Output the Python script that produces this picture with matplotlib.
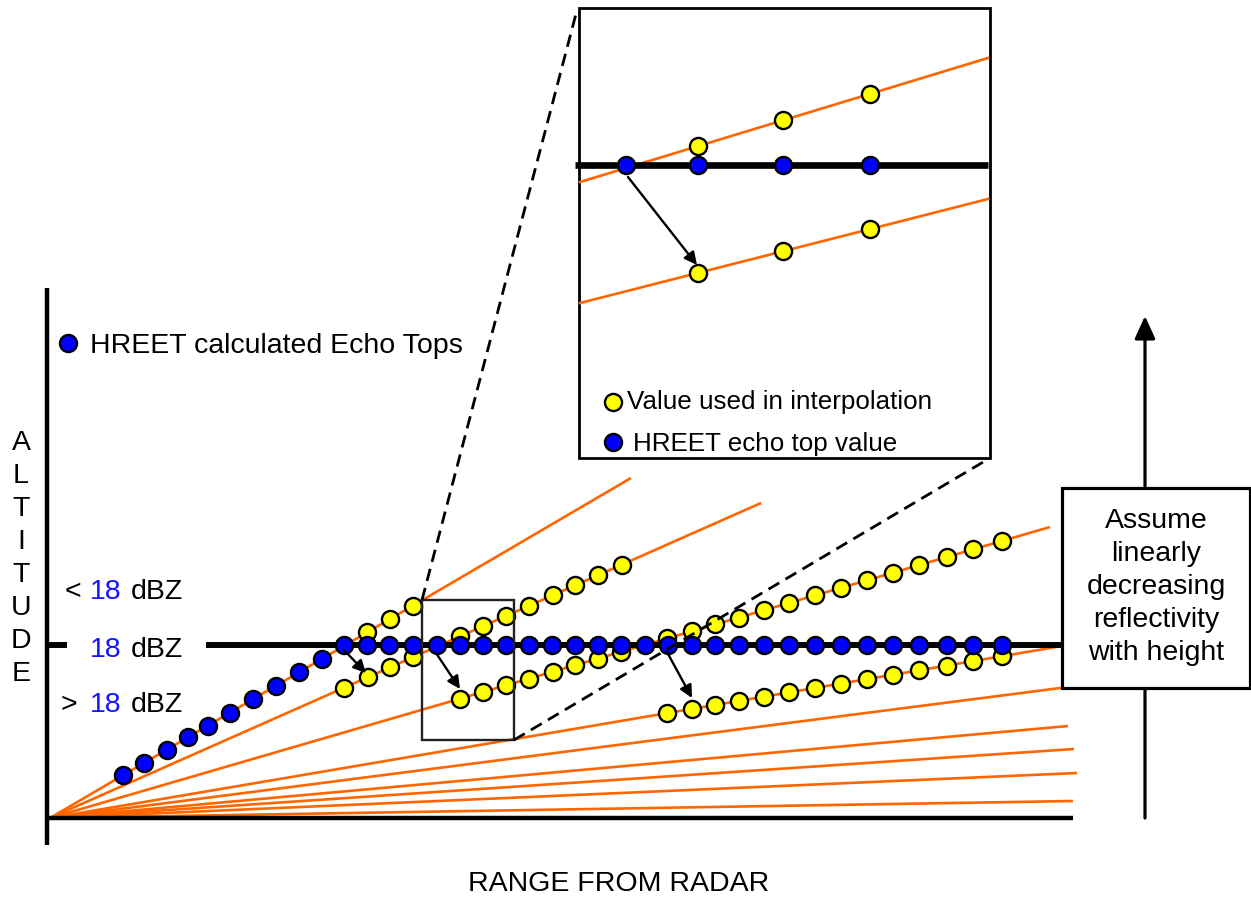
import numpy as np
import matplotlib
matplotlib.use("Agg")
import matplotlib.pyplot as plt
from matplotlib.patches import Rectangle

plt.rcParams['font.family'] = ['Liberation Sans', 'DejaVu Sans']

# ---------------- data (diagram coordinates, pixels, y downward) ----------------
RADAR_X, RADAR_Y = 50, 818
beam_end_x = [631, 761, 1050, 1062, 1068, 1068, 1074, 1077, 1073]
beam_end_y = [478, 503, 527, 646, 687, 726, 749, 773, 801]

ECHO_LEVEL_Y = 645
# HREET echo tops along the steepest beam (below the 18 dBZ level)
beam1_echo_top_x = [123, 144, 167, 188, 208, 230, 253, 276, 299, 322]
# HREET echo tops on the 18 dBZ level
level_echo_top_x = [344, 367, 389, 413, 437, 460, 483, 506, 529, 552, 575, 598,
                    621, 645, 668, 692, 715, 739, 764, 789, 815, 841, 867, 893,
                    919, 947, 973, 1002]
# values used in interpolation, per beam index
yellow_beam1_x = [367, 390, 413]
yellow_beam2_x = [344, 368, 390, 413, 460, 483, 506, 529, 553, 575, 598, 622]
yellow_beam3_x = [460, 483, 506, 529, 553, 575, 598, 621, 667, 692, 715, 739,
                  764, 789, 815, 841, 867, 893, 919, 947, 973, 1002]
yellow_beam4_x = [667, 692, 715, 739, 764, 789, 815, 841, 867, 893, 919, 947,
                  973, 1002]

# arrows (start, end)
small_arrows = [((344, 650), (366, 673)), ((436, 653), (460, 689)),
                ((667, 652), (692, 698))]

# inset
inset_box = (579, 8, 990, 458)
inset_level_y = 165
inset_upper = ((580, 182), (988, 58))
inset_lower = ((580, 303), (988, 199))
inset_blue_x = [626, 698, 783, 870]
inset_yellow_x = [698, 783, 870]
inset_arrow = ((628, 177), (697, 265))
zoom_box = (422, 600, 514, 740)

box_lines = ["Assume", "linearly", "decreasing", "reflectivity", "with height"]
altitude_letters = list("ALTITUDE")

ORANGE = '#FF6600'
BLUE = '#0000FF'
YELLOW = '#FFFF00'
TXT_BLUE = '#1414FF'

# ---------------- figure ----------------
fig = plt.figure(figsize=(12.51, 8.97), dpi=100)
ax = fig.add_axes([0, 0, 1, 1])
ax.set_xlim(0, 1251)
ax.set_ylim(897, 0)
ax.axis('off')


def beam_y(i, xs):
    xs = np.asarray(xs, float)
    return RADAR_Y + (beam_end_y[i] - RADAR_Y) * (xs - RADAR_X) / (beam_end_x[i] - RADAR_X)


def line_y(seg, xs):
    (x0, y0), (x1, y1) = seg
    xs = np.asarray(xs, float)
    return y0 + (y1 - y0) * (xs - x0) / (x1 - x0)


MS, MEW = 12.3, 1.7
ARROW = dict(arrowstyle='-|>,head_length=0.5,head_width=0.25', color='black',
             lw=1.7, shrinkA=0, shrinkB=0, mutation_scale=15)
DASH = (0, (4.5, 2.6))

# beams
for ex, ey in zip(beam_end_x, beam_end_y):
    ax.plot([RADAR_X, ex], [RADAR_Y, ey], color=ORANGE, lw=1.9, zorder=1,
            solid_capstyle='butt')

# 18 dBZ level line
ax.plot([47, 67], [ECHO_LEVEL_Y] * 2, color='black', lw=4.3, zorder=3, solid_capstyle='butt')
ax.plot([206, 1062], [ECHO_LEVEL_Y] * 2, color='black', lw=4.3, zorder=3, solid_capstyle='butt')

# yellow dots
for i, xs in enumerate([yellow_beam1_x, yellow_beam2_x, yellow_beam3_x, yellow_beam4_x]):
    ax.plot(xs, beam_y(i, xs), 'o', ms=MS, mfc=YELLOW, mec='black', mew=MEW,
            ls='none', zorder=4)

# blue echo tops
ax.plot(beam1_echo_top_x, beam_y(0, beam1_echo_top_x), 'o', ms=MS, mfc=BLUE,
        mec='black', mew=MEW, ls='none', zorder=5)
ax.plot(level_echo_top_x, [ECHO_LEVEL_Y] * len(level_echo_top_x), 'o', ms=MS,
        mfc=BLUE, mec='black', mew=MEW, ls='none', zorder=5)

# small arrows
for (s, e) in small_arrows:
    ax.annotate('', xy=e, xytext=s, arrowprops=ARROW, zorder=6)

# axes lines
ax.plot([47, 47], [288, 845], color='black', lw=3.2, zorder=7, solid_capstyle='butt')
ax.plot([47, 1073], [818, 818], color='black', lw=3.2, zorder=7, solid_capstyle='butt')

# zoom box and dashed connectors
zx0, zy0, zx1, zy1 = zoom_box
ax.add_patch(Rectangle((zx0, zy0), zx1 - zx0, zy1 - zy0, fill=False,
                       ec='#222222', lw=1.7, zorder=6))
ix0, iy0, ix1, iy1 = inset_box
ax.plot([zx0, 577], [zy0, iy0 + 2], color='black', lw=2.0, ls=DASH, zorder=6)
ax.plot([zx1, ix1], [zy1, iy1], color='black', lw=2.0, ls=DASH, zorder=6)

# inset
ax.add_patch(Rectangle((ix0, iy0), ix1 - ix0, iy1 - iy0, fc='white',
                       ec='black', lw=2.0, zorder=8))
for seg in (inset_upper, inset_lower):
    (x0, y0), (x1, y1) = seg
    ax.plot([x0, x1], [y0, y1], color=ORANGE, lw=1.9, zorder=9)
ax.plot([575, 988], [inset_level_y] * 2, color='black', lw=4.8, zorder=9,
        solid_capstyle='butt')
ax.plot(inset_yellow_x, line_y(inset_upper, inset_yellow_x), 'o', ms=MS,
        mfc=YELLOW, mec='black', mew=MEW, ls='none', zorder=10)
ax.plot(inset_yellow_x, line_y(inset_lower, inset_yellow_x), 'o', ms=MS,
        mfc=YELLOW, mec='black', mew=MEW, ls='none', zorder=10)
ax.plot(inset_blue_x, [inset_level_y] * len(inset_blue_x), 'o', ms=MS,
        mfc=BLUE, mec='black', mew=MEW, ls='none', zorder=11)
ax.annotate('', xy=inset_arrow[1], xytext=inset_arrow[0], arrowprops=ARROW, zorder=12)
# inset legend
ax.plot([613], [402], 'o', ms=MS, mfc=YELLOW, mec='black', mew=MEW, zorder=11)
ax.text(627, 409, 'Value used in interpolation', fontsize=18.7, va='baseline',
        ha='left', zorder=11)
ax.plot([613], [442], 'o', ms=MS, mfc=BLUE, mec='black', mew=MEW, zorder=11)
ax.text(633, 451, 'HREET echo top value', fontsize=18.7, va='baseline',
        ha='left', zorder=11)

# main legend
ax.plot([68], [343], 'o', ms=MS, mfc=BLUE, mec='black', mew=MEW, zorder=11)
ax.text(90, 353, 'HREET calculated Echo Tops', fontsize=20.5, va='baseline', ha='left')

# dBZ labels
FS = 20.5
for prefix, px, base in [('<', 65, 599), ('', 0, 657), ('>', 61, 712)]:
    if prefix:
        ax.text(px, base, prefix, fontsize=FS, va='baseline', ha='left')
    ax.text(122, base, '18', fontsize=FS, va='baseline', ha='right', color=TXT_BLUE)
    ax.text(183, base, 'dBZ', fontsize=FS, va='baseline', ha='right')

# ALTITUDE
for k, ch in enumerate(altitude_letters):
    ax.text(21, 450 + 33 * k, ch, fontsize=FS, va='baseline', ha='center')

ax.text(619, 891, 'RANGE FROM RADAR', fontsize=FS, va='baseline', ha='center')

# right: vertical arrow and box
ax.annotate('', xy=(1145, 316), xytext=(1145, 818),
            arrowprops=dict(arrowstyle='-|>,head_length=0.55,head_width=0.25',
                            color='black', lw=2.3, shrinkA=0, shrinkB=0,
                            mutation_scale=25), zorder=12)
ax.add_patch(Rectangle((1062, 488), 188, 200, fc='white', ec='black', lw=2.3, zorder=13))
for k, s in enumerate(box_lines):
    ax.text(1156, 528 + 33 * k, s, fontsize=FS, va='baseline', ha='center', zorder=14)

fig.savefig('out.png', dpi=100)
